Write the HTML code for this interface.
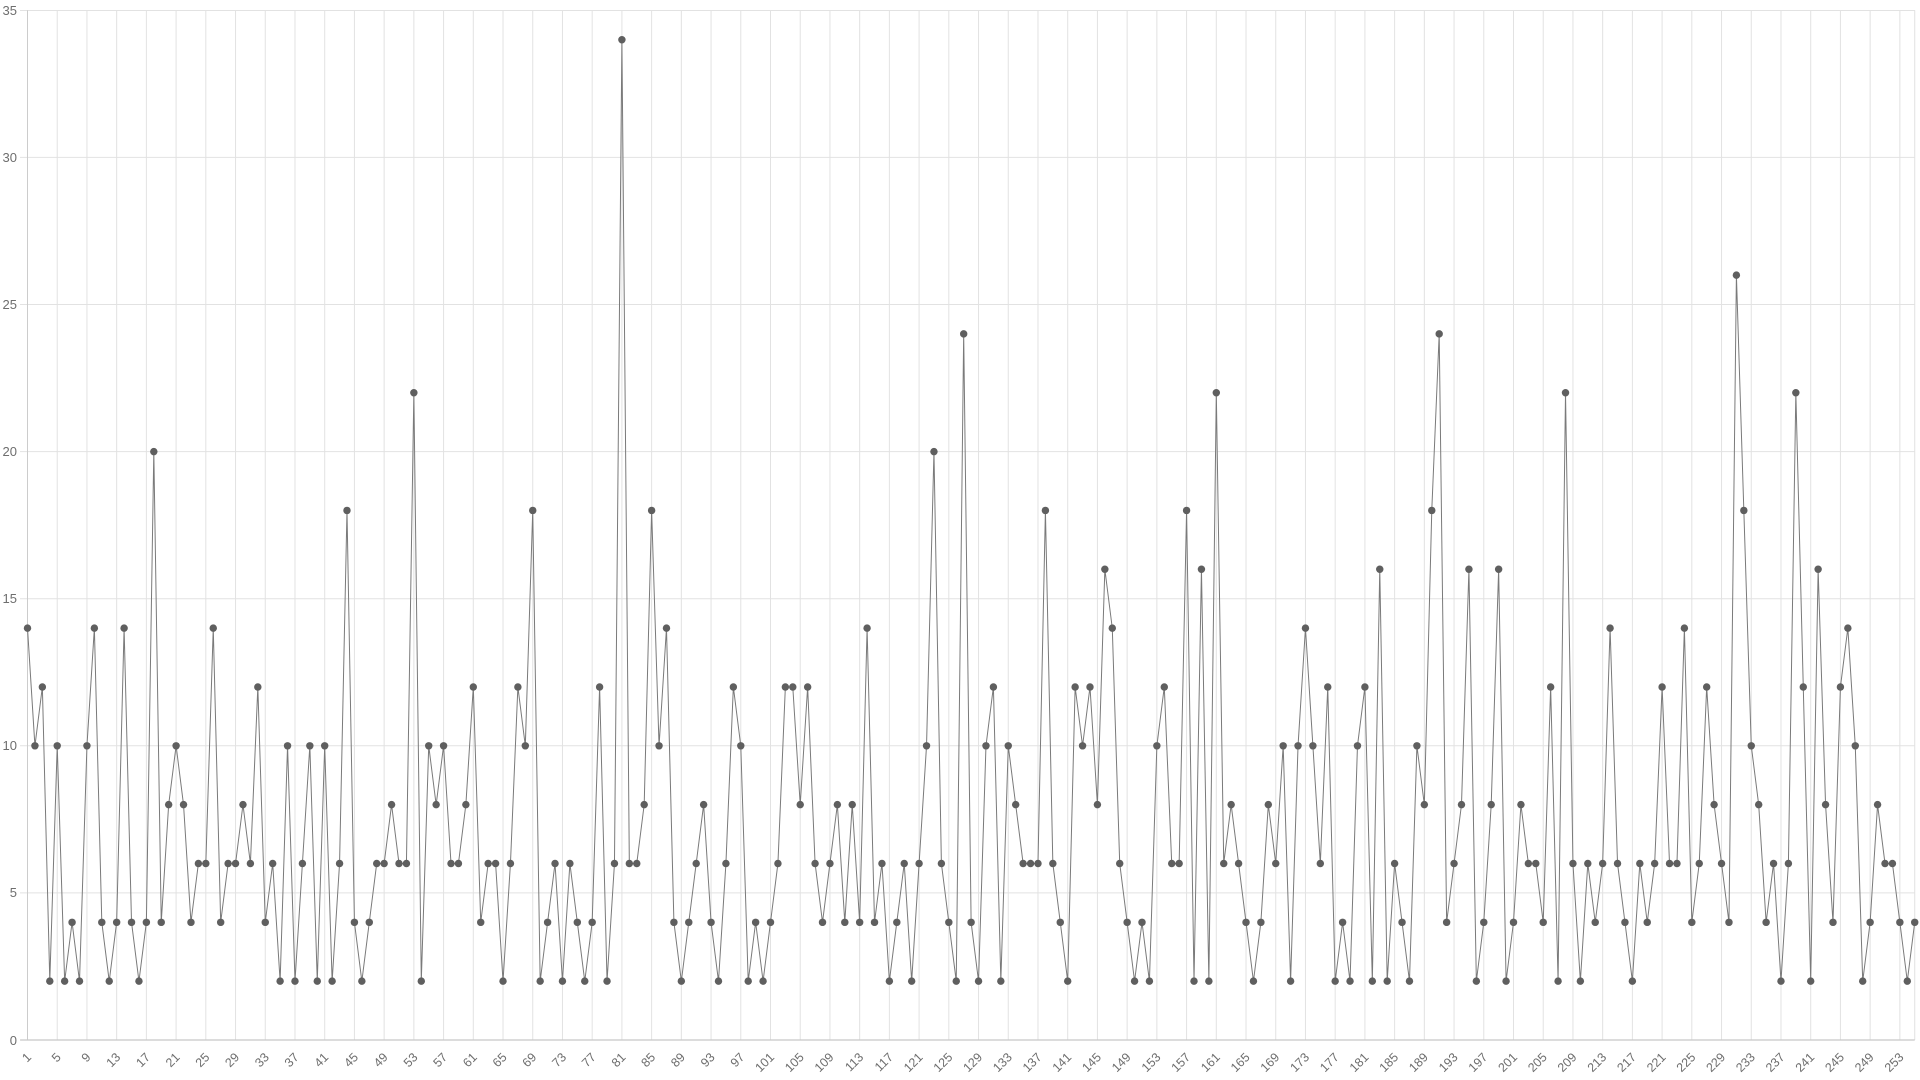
<!DOCTYPE html>
<html><head><meta charset="utf-8"><style>
html,body{margin:0;padding:0;background:#fff;}
svg{display:block;}
text{font-family:"Liberation Sans",sans-serif;fill:#6e6e6e;}
</style></head><body>
<svg width="1920" height="1080" viewBox="0 0 1920 1080" xmlns="http://www.w3.org/2000/svg">
<defs>
<marker id="dot" markerUnits="userSpaceOnUse" markerWidth="2" markerHeight="2" refX="0" refY="0" overflow="visible">
<ellipse cx="0" cy="0" rx="0.5" ry="0.127" fill="#5f5f5f"/>
</marker>
</defs>
<g stroke="#e2e2e2" stroke-width="1" fill="none">
<path d="M20 10.5H1915M20 157.4H1915M20 304.5H1915M20 451.6H1915M20 598.7H1915M20 745.8H1915M20 892.9H1915"/>
</g>
<g transform="translate(27.5,1040) scale(7.43,-29.42)">
<path vector-effect="non-scaling-stroke" stroke="#e2e2e2" stroke-width="1" fill="none" d="M0 0V35M4 0V35M8 0V35M12 0V35M16 0V35M20 0V35M24 0V35M28 0V35M32 0V35M36 0V35M40 0V35M44 0V35M48 0V35M52 0V35M56 0V35M60 0V35M64 0V35M68 0V35M72 0V35M76 0V35M80 0V35M84 0V35M88 0V35M92 0V35M96 0V35M100 0V35M104 0V35M108 0V35M112 0V35M116 0V35M120 0V35M124 0V35M128 0V35M132 0V35M136 0V35M140 0V35M144 0V35M148 0V35M152 0V35M156 0V35M160 0V35M164 0V35M168 0V35M172 0V35M176 0V35M180 0V35M184 0V35M188 0V35M192 0V35M196 0V35M200 0V35M204 0V35M208 0V35M212 0V35M216 0V35M220 0V35M224 0V35M228 0V35M232 0V35M236 0V35M240 0V35M244 0V35M248 0V35M252 0V35M254 0V35"/>
<path vector-effect="non-scaling-stroke" stroke="#cccccc" stroke-width="1" fill="none" d="M0 0V35"/>
<path vector-effect="non-scaling-stroke" stroke="#c8c8c8" stroke-width="1.2" fill="none" d="M-1 0H254"/>
<polyline vector-effect="non-scaling-stroke" stroke="#7a7a7a" stroke-width="1" fill="none" marker-start="url(#dot)" marker-mid="url(#dot)" marker-end="url(#dot)" points="0,14 1,10 2,12 3,2 4,10 5,2 6,4 7,2 8,10 9,14 10,4 11,2 12,4 13,14 14,4 15,2 16,4 17,20 18,4 19,8 20,10 21,8 22,4 23,6 24,6 25,14 26,4 27,6 28,6 29,8 30,6 31,12 32,4 33,6 34,2 35,10 36,2 37,6 38,10 39,2 40,10 41,2 42,6 43,18 44,4 45,2 46,4 47,6 48,6 49,8 50,6 51,6 52,22 53,2 54,10 55,8 56,10 57,6 58,6 59,8 60,12 61,4 62,6 63,6 64,2 65,6 66,12 67,10 68,18 69,2 70,4 71,6 72,2 73,6 74,4 75,2 76,4 77,12 78,2 79,6 80,34 81,6 82,6 83,8 84,18 85,10 86,14 87,4 88,2 89,4 90,6 91,8 92,4 93,2 94,6 95,12 96,10 97,2 98,4 99,2 100,4 101,6 102,12 103,12 104,8 105,12 106,6 107,4 108,6 109,8 110,4 111,8 112,4 113,14 114,4 115,6 116,2 117,4 118,6 119,2 120,6 121,10 122,20 123,6 124,4 125,2 126,24 127,4 128,2 129,10 130,12 131,2 132,10 133,8 134,6 135,6 136,6 137,18 138,6 139,4 140,2 141,12 142,10 143,12 144,8 145,16 146,14 147,6 148,4 149,2 150,4 151,2 152,10 153,12 154,6 155,6 156,18 157,2 158,16 159,2 160,22 161,6 162,8 163,6 164,4 165,2 166,4 167,8 168,6 169,10 170,2 171,10 172,14 173,10 174,6 175,12 176,2 177,4 178,2 179,10 180,12 181,2 182,16 183,2 184,6 185,4 186,2 187,10 188,8 189,18 190,24 191,4 192,6 193,8 194,16 195,2 196,4 197,8 198,16 199,2 200,4 201,8 202,6 203,6 204,4 205,12 206,2 207,22 208,6 209,2 210,6 211,4 212,6 213,14 214,6 215,4 216,2 217,6 218,4 219,6 220,12 221,6 222,6 223,14 224,4 225,6 226,12 227,8 228,6 229,4 230,26 231,18 232,10 233,8 234,4 235,6 236,2 237,6 238,22 239,12 240,2 241,16 242,8 243,4 244,12 245,14 246,10 247,2 248,4 249,8 250,6 251,6 252,4 253,2 254,4"/>
</g>
<g font-size="13" text-anchor="end">
<text x="17" y="15">35</text>
<text x="17" y="162">30</text>
<text x="17" y="309">25</text>
<text x="17" y="456">20</text>
<text x="17" y="603">15</text>
<text x="17" y="750">10</text>
<text x="17" y="897">5</text>
<text x="17" y="1045">0</text>
</g>
<g font-size="12.5" text-anchor="end">
<text transform="translate(32,1058) rotate(-45)">1</text>
<text transform="translate(61.7,1058) rotate(-45)">5</text>
<text transform="translate(91.4,1058) rotate(-45)">9</text>
<text transform="translate(121.2,1058) rotate(-45)">13</text>
<text transform="translate(150.9,1058) rotate(-45)">17</text>
<text transform="translate(180.6,1058) rotate(-45)">21</text>
<text transform="translate(210.3,1058) rotate(-45)">25</text>
<text transform="translate(240,1058) rotate(-45)">29</text>
<text transform="translate(269.8,1058) rotate(-45)">33</text>
<text transform="translate(299.5,1058) rotate(-45)">37</text>
<text transform="translate(329.2,1058) rotate(-45)">41</text>
<text transform="translate(358.9,1058) rotate(-45)">45</text>
<text transform="translate(388.6,1058) rotate(-45)">49</text>
<text transform="translate(418.4,1058) rotate(-45)">53</text>
<text transform="translate(448.1,1058) rotate(-45)">57</text>
<text transform="translate(477.8,1058) rotate(-45)">61</text>
<text transform="translate(507.5,1058) rotate(-45)">65</text>
<text transform="translate(537.2,1058) rotate(-45)">69</text>
<text transform="translate(567,1058) rotate(-45)">73</text>
<text transform="translate(596.7,1058) rotate(-45)">77</text>
<text transform="translate(626.4,1058) rotate(-45)">81</text>
<text transform="translate(656.1,1058) rotate(-45)">85</text>
<text transform="translate(685.8,1058) rotate(-45)">89</text>
<text transform="translate(715.6,1058) rotate(-45)">93</text>
<text transform="translate(745.3,1058) rotate(-45)">97</text>
<text transform="translate(775,1058) rotate(-45)">101</text>
<text transform="translate(804.7,1058) rotate(-45)">105</text>
<text transform="translate(834.4,1058) rotate(-45)">109</text>
<text transform="translate(864.2,1058) rotate(-45)">113</text>
<text transform="translate(893.9,1058) rotate(-45)">117</text>
<text transform="translate(923.6,1058) rotate(-45)">121</text>
<text transform="translate(953.3,1058) rotate(-45)">125</text>
<text transform="translate(983,1058) rotate(-45)">129</text>
<text transform="translate(1012.8,1058) rotate(-45)">133</text>
<text transform="translate(1042.5,1058) rotate(-45)">137</text>
<text transform="translate(1072.2,1058) rotate(-45)">141</text>
<text transform="translate(1101.9,1058) rotate(-45)">145</text>
<text transform="translate(1131.6,1058) rotate(-45)">149</text>
<text transform="translate(1161.4,1058) rotate(-45)">153</text>
<text transform="translate(1191.1,1058) rotate(-45)">157</text>
<text transform="translate(1220.8,1058) rotate(-45)">161</text>
<text transform="translate(1250.5,1058) rotate(-45)">165</text>
<text transform="translate(1280.2,1058) rotate(-45)">169</text>
<text transform="translate(1310,1058) rotate(-45)">173</text>
<text transform="translate(1339.7,1058) rotate(-45)">177</text>
<text transform="translate(1369.4,1058) rotate(-45)">181</text>
<text transform="translate(1399.1,1058) rotate(-45)">185</text>
<text transform="translate(1428.8,1058) rotate(-45)">189</text>
<text transform="translate(1458.6,1058) rotate(-45)">193</text>
<text transform="translate(1488.3,1058) rotate(-45)">197</text>
<text transform="translate(1518,1058) rotate(-45)">201</text>
<text transform="translate(1547.7,1058) rotate(-45)">205</text>
<text transform="translate(1577.4,1058) rotate(-45)">209</text>
<text transform="translate(1607.2,1058) rotate(-45)">213</text>
<text transform="translate(1636.9,1058) rotate(-45)">217</text>
<text transform="translate(1666.6,1058) rotate(-45)">221</text>
<text transform="translate(1696.3,1058) rotate(-45)">225</text>
<text transform="translate(1726,1058) rotate(-45)">229</text>
<text transform="translate(1755.8,1058) rotate(-45)">233</text>
<text transform="translate(1785.5,1058) rotate(-45)">237</text>
<text transform="translate(1815.2,1058) rotate(-45)">241</text>
<text transform="translate(1844.9,1058) rotate(-45)">245</text>
<text transform="translate(1874.6,1058) rotate(-45)">249</text>
<text transform="translate(1904.4,1058) rotate(-45)">253</text>
</g>
</svg>
</body></html>
